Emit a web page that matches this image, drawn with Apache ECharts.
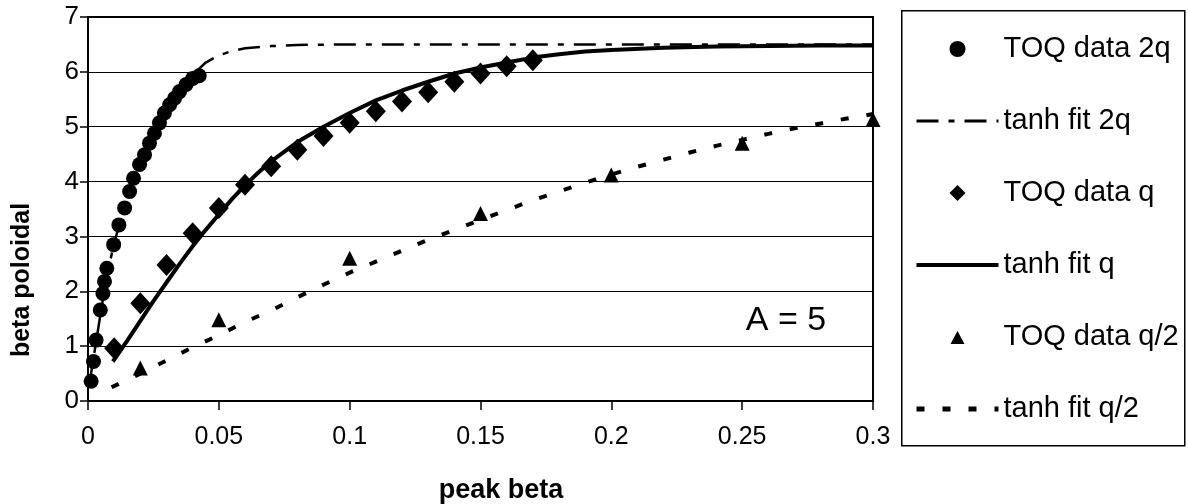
<!DOCTYPE html>
<html>
<head>
<meta charset="utf-8">
<title>beta poloidal vs peak beta</title>
<script src="https://cdn.jsdelivr.net/npm/echarts@6/dist/echarts.min.js"></script>
<style>
  html, body { margin: 0; padding: 0; background: #fff; }
  #main { width: 1188px; height: 504px; }
</style>
</head>
<body>
<div id="main"></div>
<script>
// TOQ data 2q  [peak beta, beta poloidal]
const data2q = [
  [0.0012, 0.36], [0.0021, 0.72], [0.0031, 1.11], [0.0047, 1.66], [0.0057, 1.96],
  [0.0063, 2.18], [0.0072, 2.42], [0.0098, 2.85], [0.0118, 3.21], [0.014, 3.52],
  [0.0159, 3.82], [0.0174, 4.06], [0.0197, 4.31], [0.0216, 4.49], [0.0235, 4.70],
  [0.0254, 4.88], [0.0273, 5.07], [0.0292, 5.25], [0.0312, 5.40], [0.0331, 5.52],
  [0.035, 5.64], [0.0375, 5.77], [0.040, 5.88], [0.0425, 5.93]
]
// tanh fit 2q
const fit2q = [
  [0.0005, 0.3], [0.002, 0.75], [0.004, 1.35], [0.006, 1.95], [0.008, 2.45],
  [0.01, 2.88], [0.0125, 3.3], [0.015, 3.68], [0.0175, 4.03], [0.02, 4.34],
  [0.0225, 4.6], [0.025, 4.85], [0.0275, 5.08], [0.03, 5.3], [0.0325, 5.5],
  [0.035, 5.66], [0.0375, 5.8], [0.04, 5.94], [0.0425, 6.06], [0.045, 6.17],
  [0.05, 6.3], [0.055, 6.38], [0.06, 6.43], [0.07, 6.47], [0.08, 6.49],
  [0.1, 6.5], [0.15, 6.5], [0.2, 6.5], [0.25, 6.5], [0.3, 6.5]
]
// TOQ data q
const dataQ = [
  [0.01, 0.96], [0.02, 1.78], [0.03, 2.48], [0.04, 3.06], [0.05, 3.52], [0.06, 3.94],
  [0.07, 4.28], [0.08, 4.58], [0.09, 4.83], [0.1, 5.07], [0.11, 5.28], [0.12, 5.46],
  [0.13, 5.63], [0.14, 5.82], [0.15, 5.97], [0.16, 6.1], [0.17, 6.21]
]
// tanh fit q
const fitQ = [
  [0.0095, 0.72], [0.015, 1.1], [0.02, 1.46], [0.025, 1.82], [0.03, 2.16],
  [0.035, 2.5], [0.04, 2.82], [0.045, 3.12], [0.05, 3.4], [0.055, 3.68],
  [0.06, 3.93], [0.065, 4.16], [0.07, 4.37], [0.08, 4.72], [0.09, 5.0],
  [0.1, 5.25], [0.11, 5.48], [0.12, 5.66], [0.13, 5.82], [0.14, 5.97],
  [0.15, 6.08], [0.16, 6.17], [0.17, 6.26], [0.18, 6.32], [0.19, 6.37],
  [0.2, 6.4], [0.22, 6.44], [0.24, 6.46], [0.26, 6.47], [0.28, 6.48], [0.3, 6.48]
]
// TOQ data q/2
const dataHalfQ = [
  [0.02, 0.60], [0.05, 1.48], [0.1, 2.60], [0.15, 3.42], [0.2, 4.12], [0.25, 4.70], [0.3, 5.13]
]
// tanh fit q/2
const fitHalfQ = [
  [0.009, 0.25], [0.02, 0.5], [0.03, 0.74], [0.04, 0.98], [0.05, 1.2], [0.06, 1.44],
  [0.07, 1.65], [0.08, 1.89], [0.09, 2.12], [0.1, 2.34], [0.11, 2.54], [0.12, 2.74],
  [0.13, 2.94], [0.14, 3.12], [0.15, 3.3], [0.16, 3.48], [0.17, 3.66], [0.18, 3.82],
  [0.19, 3.98], [0.2, 4.13], [0.21, 4.27], [0.22, 4.4], [0.23, 4.53], [0.24, 4.65],
  [0.25, 4.76], [0.26, 4.87], [0.27, 4.97], [0.28, 5.06], [0.29, 5.15], [0.3, 5.23]
]

const font = "'Liberation Sans', Arial, sans-serif"

// legend icons: tiny corner dots widen the bbox so the marker is not stretched
const pad = 'M0,0L0.01,0L0,0.01Z M82,16L81.99,16L82,15.99Z '
const diamondIcon = 'path://' + pad + 'M41,-1L50,8L41,17L32,8Z'
const triangleIcon = 'path://' + pad + 'M41,2L48,15L34,15Z'
const noDot = { opacity: 0 }

let myChart = echarts.init(document.getElementById('main'))
let option = {
  backgroundColor: '#fff',
  animation: false,
  textStyle: { fontFamily: font, color: '#000' },
  grid: {
    left: 88, right: 315, top: 17, bottom: 103,
    show: true, borderColor: '#000', borderWidth: 2
  },
  legend: {
    orient: 'vertical',
    left: 909,
    top: 29,
    itemWidth: 82,
    itemHeight: 16,
    itemGap: 42,
    symbolKeepAspect: true,
    data: [
      { name: 'TOQ data 2q', icon: 'circle' },
      { name: 'tanh fit 2q', itemStyle: noDot, lineStyle: { width: 3 } },
      { name: 'TOQ data q', icon: diamondIcon },
      { name: 'tanh fit q', itemStyle: noDot, lineStyle: { width: 4 } },
      { name: 'TOQ data q/2', icon: triangleIcon },
      { name: 'tanh fit q/2', itemStyle: noDot, lineStyle: { width: 5 } }
    ],
    textStyle: { fontFamily: font, fontSize: 29, lineHeight: 30, color: '#000' }
  },
  xAxis: {
    type: 'value',
    min: 0, max: 0.3, interval: 0.05,
    axisLine: { lineStyle: { color: '#000', width: 2 } },
    axisTick: { show: true, length: 9, lineStyle: { color: '#000', width: 1.5 } },
    axisLabel: { fontSize: 25, color: '#000', margin: 24, fontFamily: font },
    splitLine: { show: false }
  },
  yAxis: {
    type: 'value',
    min: 0, max: 7, interval: 1,
    axisLine: { show: true, lineStyle: { color: '#000', width: 2 } },
    axisTick: { show: true, length: 8, lineStyle: { color: '#000', width: 1.5 } },
    axisLabel: { fontSize: 26, color: '#000', margin: 9, fontFamily: font },
    splitLine: { show: true, lineStyle: { color: '#000', width: 1.2 } }
  },
  graphic: [
    { // legend frame
      type: 'rect', left: 901, top: 10, silent: true, z: -1,
      shape: { width: 283, height: 435 },
      style: { fill: '#fff', stroke: '#000', lineWidth: 1.5 }
    },
    {
      type: 'text', x: 22, y: 280, rotation: Math.PI / 2,
      style: { text: 'beta poloidal', font: 'bold 25px ' + font, fill: '#000', align: 'center', verticalAlign: 'middle' }
    },
    {
      type: 'text', x: 501, y: 491,
      style: { text: 'peak beta', font: 'bold 27px ' + font, fill: '#000', align: 'center', verticalAlign: 'middle' }
    },
    {
      type: 'text', x: 786, y: 321,
      style: { text: 'A = 5', font: '34px ' + font, fill: '#000', align: 'center', verticalAlign: 'middle' }
    }
  ],
  series: [
    {
      name: 'TOQ data 2q', type: 'scatter', data: data2q, color: '#000',
      symbol: 'circle', symbolSize: 15, itemStyle: { color: '#000', opacity: 1 }, z: 3
    },
    {
      name: 'tanh fit 2q', type: 'line', data: fit2q, color: '#000', showSymbol: false, symbol: 'none',
      lineStyle: { color: '#000', width: 2.5, type: [22, 10, 6, 10] }, z: 2
    },
    {
      name: 'TOQ data q', type: 'scatter', data: dataQ, color: '#000',
      symbol: 'diamond', symbolSize: [20, 22], itemStyle: { color: '#000', opacity: 1 }, z: 3
    },
    {
      name: 'tanh fit q', type: 'line', data: fitQ, color: '#000', showSymbol: false, symbol: 'none',
      lineStyle: { color: '#000', width: 4 }, z: 2
    },
    {
      name: 'TOQ data q/2', type: 'scatter', data: dataHalfQ, color: '#000',
      symbol: 'triangle', symbolSize: [15, 15], itemStyle: { color: '#000', opacity: 1 }, z: 3
    },
    {
      name: 'tanh fit q/2', type: 'line', data: fitHalfQ, color: '#000', showSymbol: false, symbol: 'none',
      lineStyle: { color: '#000', width: 4, type: [8, 18] }, z: 2
    }
  ]
}
myChart.setOption(option)
</script>
</body>
</html>
